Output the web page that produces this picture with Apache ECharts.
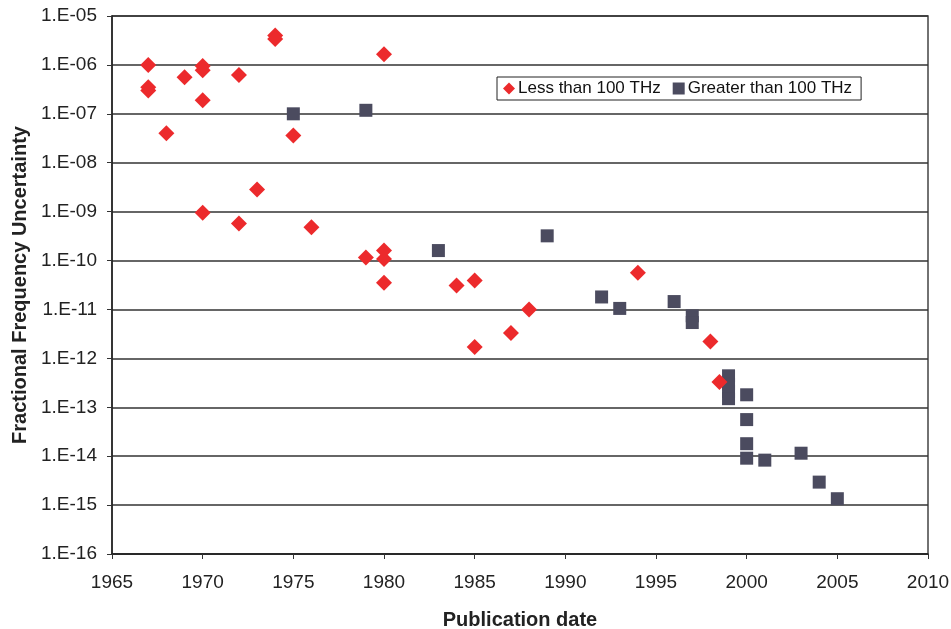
<!DOCTYPE html>
<html>
<head>
<meta charset="utf-8">
<script src="https://cdn.jsdelivr.net/npm/echarts@6/dist/echarts.min.js"></script>
<style>
  html, body { margin: 0; padding: 0; background: #fff; }
  #chart { width: 951px; height: 629px; }
</style>
</head>
<body>
<div id="chart"></div>
<script>
// Publication year and fractional uncertainty, frequencies below 100 THz
const lowYears = [1967, 1967, 1967, 1968, 1969, 1970, 1970, 1970, 1972, 1974, 1974, 1975, 1980,
                  1970, 1972, 1973, 1976, 1979, 1980, 1980, 1980, 1984, 1985, 1985, 1987, 1988,
                  1994, 1998, 1998.5];
const lowValues = [1.0e-6, 3.5e-7, 3.0e-7, 4.0e-8, 5.6e-7, 9.5e-7, 7.8e-7, 1.9e-7, 6.2e-7, 4.0e-6, 3.4e-6, 3.6e-8, 1.65e-6,
                   9.5e-10, 5.7e-10, 2.85e-9, 4.8e-10, 1.15e-10, 1.6e-10, 1.08e-10, 3.5e-11, 3.1e-11, 3.9e-11, 1.7e-12, 3.3e-12, 1.0e-11,
                   5.6e-11, 2.2e-12, 3.3e-13];

// Publication year and fractional uncertainty, frequencies above 100 THz
const highYears = [1975, 1979, 1983, 1989, 1992, 1993, 1996, 1997, 1997,
                   1999, 1999, 1999, 1999, 2000, 2000, 2000, 2000, 2001, 2003, 2004, 2005];
const highValues = [1.0e-7, 1.18e-7, 1.6e-10, 3.2e-10, 1.8e-11, 1.05e-11, 1.45e-11, 7.4e-12, 5.4e-12,
                    4.4e-13, 3.0e-13, 2.1e-13, 1.5e-13, 1.8e-13, 5.6e-14, 1.8e-14, 9.1e-15, 8.3e-15, 1.15e-14, 2.95e-15, 1.35e-15];

const yearTicks = [1965, 1970, 1975, 1980, 1985, 1990, 1995, 2000, 2005, 2010];
const seriesNames = ['Less than 100 THz', 'Greater than 100 THz'];

const pair = (xs, ys) => xs.map((x, i) => [x, ys[i]]);
const font = 'Liberation Sans, Arial, Helvetica, sans-serif';

const chart = echarts.init(document.getElementById('chart'), null, { renderer: 'canvas' });
chart.setOption({
  animation: false,
  backgroundColor: '#ffffff',
  grid: {
    left: 112, right: 23, top: 16, bottom: 75,
    outerBoundsMode: 'none', containLabel: false,
    show: true, borderColor: '#444', borderWidth: 1.5, backgroundColor: 'transparent'
  },
  legend: {
    data: seriesNames,
    left: 497, top: 77,
    itemWidth: 12, itemHeight: 12, itemGap: 12,
    padding: [3, 9, 3, 6],
    borderColor: '#222', borderWidth: 1,
    backgroundColor: '#fff',
    textStyle: { fontFamily: font, fontSize: 17, color: '#111', padding: [0, 0, 0, -2] }
  },
  xAxis: {
    type: 'value',
    min: yearTicks[0], max: yearTicks[yearTicks.length - 1], interval: 5,
    name: 'Publication date',
    nameLocation: 'middle', nameGap: 56,
    nameTextStyle: { fontFamily: font, fontSize: 20, fontWeight: 'bold', color: '#222' },
    axisLine: { show: true, onZero: false, lineStyle: { color: '#222', width: 1.5 } },
    axisTick: { show: true, inside: false, length: 5, lineStyle: { color: '#333' } },
    axisLabel: { fontFamily: font, fontSize: 19, color: '#222', margin: 19, formatter: v => String(v) },
    splitLine: { show: false }
  },
  yAxis: {
    type: 'log', logBase: 10,
    min: 1e-16, max: 1e-5, interval: 1,
    name: 'Fractional Frequency Uncertainty',
    nameLocation: 'middle', nameGap: 82, nameRotate: 90,
    nameTextStyle: { fontFamily: font, fontSize: 20, fontWeight: 'bold', color: '#222' },
    axisLine: { show: true, lineStyle: { color: '#222', width: 1.5 } },
    axisTick: { show: true, inside: false, length: 5, lineStyle: { color: '#333' } },
    axisLabel: {
      fontFamily: font, fontSize: 19, color: '#222', margin: 15,
      formatter: v => {
        const e = Math.round(Math.log10(v));
        return '1.E' + (e < 0 ? '-' : '+') + String(Math.abs(e)).padStart(2, '0');
      }
    },
    splitLine: { show: true, lineStyle: { color: '#333', width: 1.5 } },
    minorSplitLine: { show: false }
  },
  series: [
    {
      name: seriesNames[0],
      type: 'scatter',
      symbol: 'diamond',
      symbolSize: 16,
      itemStyle: { color: '#EC2A2C', opacity: 1 },
      data: pair(lowYears, lowValues),
      z: 3
    },
    {
      name: seriesNames[1],
      type: 'scatter',
      symbol: 'rect',
      symbolSize: 13,
      itemStyle: { color: '#4B4B5F', opacity: 1 },
      data: pair(highYears, highValues),
      z: 2
    }
  ]
});
</script>
</body>
</html>
